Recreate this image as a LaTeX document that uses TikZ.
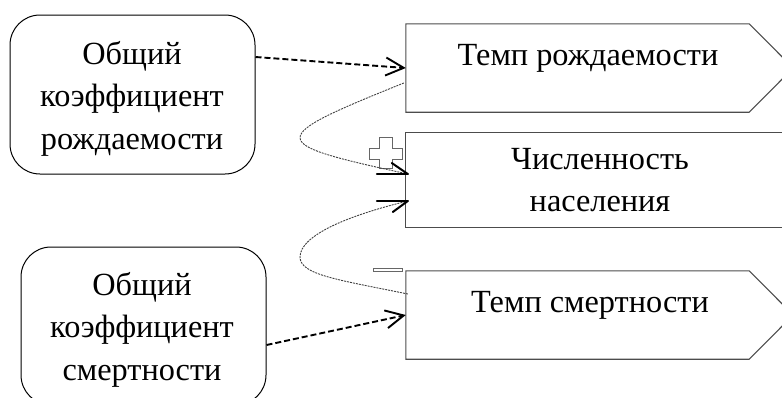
\documentclass[tikz,border=0pt]{standalone}
\usepackage{fontspec}
\setmainfont{Liberation Serif}
\usetikzlibrary{arrows.meta,calc}
\begin{document}
\begin{tikzpicture}[x=1pt,y=-1pt,
  txt/.style={font=\fontsize{32.3}{42.5}\selectfont, inner sep=0pt, align=center},
  rbox/.style={draw=black, line width=1pt, rounded corners=30pt, minimum width=245pt, minimum height=159pt, inner sep=0pt},
  sbox/.style={draw=none, minimum width=387pt, minimum height=88pt, inner sep=0pt},
  outl/.style={draw=black!70, line width=1.1pt},
  link/.style={dash pattern=on 6pt off 3pt, line width=1.9pt, -{Straight Barb[length=18pt,width=18pt]}},
  infl/.style={draw=black!75, line width=0.9pt, dash pattern=on 2pt off 1pt},
  tipline/.style={line width=2pt, line cap=round},
  sign/.style={draw=black!60, line width=1pt, fill=white}]
\useasboundingbox (0,0) rectangle (782,397);
\clip (0,0) rectangle (782,397);

% left rounded boxes
\node[rbox] (cb) at (132.5,94.5) {};
\node[txt] (cbt) at (132,98.5) {Общий\\коэффициент\\рождаемости};
\node[rbox, minimum height=158pt] (cd) at (143.5,326) {};
\node[txt] (cdt) at (142,329.5) {Общий\\коэффициент\\смертности};

% rate: births
\node[sbox] (rb) at (599.5,68) {};
\draw[outl] (rb.north west) -- ([xshift=-44pt]rb.north east) -- (rb.east) -- ([xshift=-44pt]rb.south east) -- (rb.south west) -- cycle;
\node[txt, anchor=base] (rbt) at (588,65) {Темп рождаемости};

% stock: population
\node[sbox, minimum width=394pt, minimum height=94pt] (pop) at (603,180) {};
\draw[outl] (pop.north west) rectangle (pop.south east);
\node[txt] (popt) at (600,180) {Численность\\населения};

% rate: deaths
\node[sbox] (rd) at (599.5,315) {};
\draw[outl] (rd.north west) -- ([xshift=-44pt]rd.north east) -- (rd.east) -- ([xshift=-44pt]rd.south east) -- (rd.south west) -- cycle;
\node[txt, anchor=base] (rdt) at (590,312) {Темп смертности};

% dashed links
\draw[link] ($(cb.east)+(0,-37.5)$) -- (rb.west);
\draw[link] ($(cd.east)+(0,19)$) -- (rd.west);

% polarity signs
\draw[sign] (379,137) -- (392,137) -- (392,148) -- (402,148) -- (402,159) -- (392,159) -- (392,168) -- (379,168) -- (379,159) -- (369,159) -- (369,148) -- (379,148) -- cycle;
\draw[sign] (373,268) rectangle (402,271);

% influence curves
\coordinate (s1) at ($(rb.west)+(-2,15)$);
\coordinate (e1) at ($(pop.west)+(2,-6)$);
\coordinate (s2) at ($(rd.west)+(2,-21)$);
\coordinate (m2) at (300,257);
\coordinate (e2) at ($(pop.west)+(2,21)$);
\draw[infl] (s1) .. controls +(-139,56) and +(-143,-31) .. (e1);
\draw[infl] (s2) .. controls +(-68,-14) and +(0,18) .. (m2) .. controls +(0,-22) and +(-58,14) .. (e2);
\draw[tipline] (e1) -- ++(-31,0);
\draw[tipline] (e1) -- ++(-16,-11);
\draw[tipline] (e2) -- ++(-31,0);
\draw[tipline] (e2) -- ++(-15,11);
\end{tikzpicture}
\end{document}
